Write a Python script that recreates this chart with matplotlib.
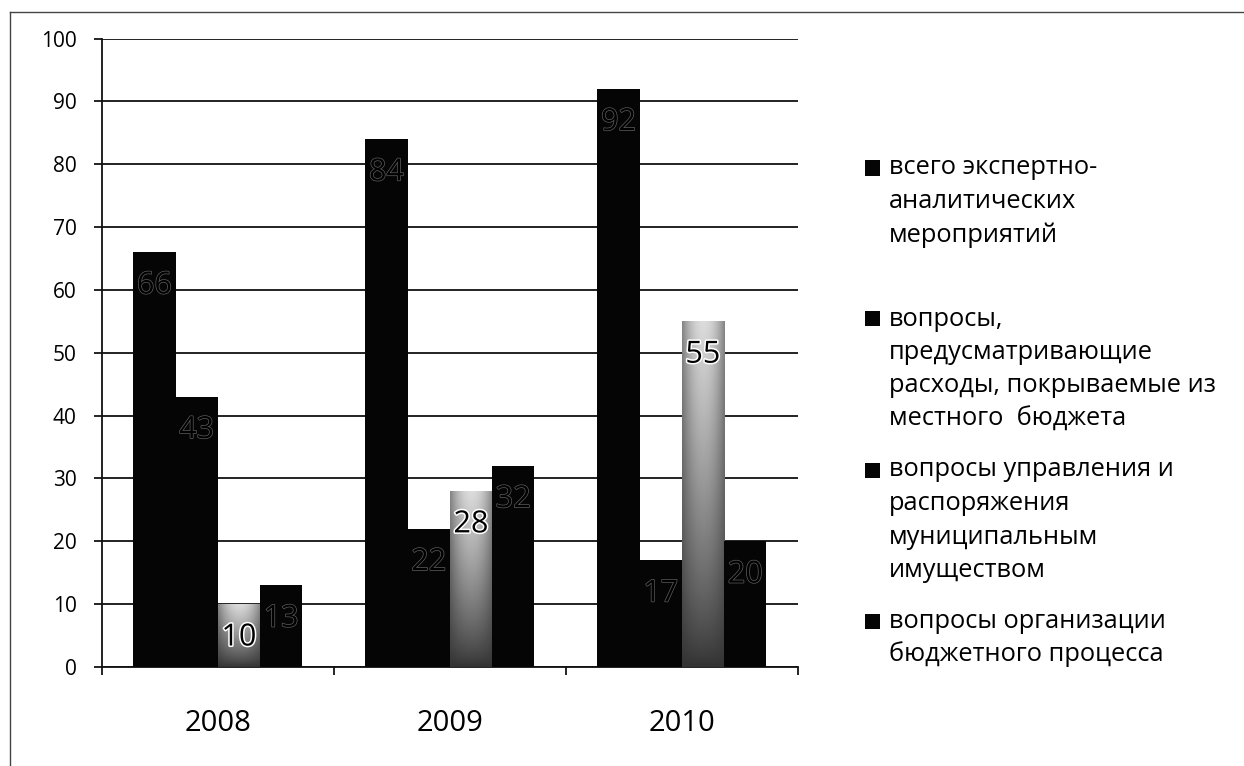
import matplotlib
matplotlib.use('Agg')
import matplotlib.pyplot as plt
import matplotlib.patheffects as pe
import numpy as np
from matplotlib.lines import Line2D
from matplotlib.patches import Rectangle

plt.rcParams['font.family'] = ['Open Sans', 'DejaVu Sans']

years = ['2008', '2009', '2010']
series_names = [
    'всего экспертно-\nаналитических\nмероприятий',
    'вопросы,\nпредусматривающие\nрасходы, покрываемые из\nместного  бюджета',
    'вопросы управления и\nраспоряжения\nмуниципальным\nимуществом',
    'вопросы организации\nбюджетного процесса',
]
total_events = [66, 84, 92]
budget_expenses = [43, 22, 17]
municipal_property = [10, 28, 55]
budget_process = [13, 32, 20]
yticks = list(range(0, 101, 10))

W, H = 1244, 766


def px(x, y):
    # pixel position (from top-left) -> figure fraction
    return x / W, 1 - y / H


def main():
    fig = plt.figure(figsize=(W / 100, H / 100), dpi=100)
    ax = fig.add_axes([0.0818, 0.1292, 0.5595, 0.8205])

    x = np.arange(len(years))
    w = 0.182
    series = [total_events, budget_expenses, municipal_property, budget_process]

    # shading used for the light (third) series
    ny, nx = 80, 30
    t = np.linspace(0, 1, ny)[:, None]
    s = np.linspace(-1, 1, nx)[None, :]
    shade = 0.2 + 0.66 * t ** 0.8 * (1 - 0.5 * s ** 2)

    for i, vals in enumerate(series):
        pos = x + (i - 1.5) * w
        if i == 2:
            bars = ax.bar(pos, vals, w, color='none', edgecolor='none', zorder=3)
            for b in bars:
                im = ax.imshow(shade, cmap='gray', vmin=0, vmax=1, origin='lower',
                               extent=[b.get_x(), b.get_x() + b.get_width(), 0, b.get_height()],
                               aspect='auto', zorder=3, interpolation='bilinear')
                im.set_clip_path(b)
            halo = pe.withStroke(linewidth=2.2, foreground='white')
        else:
            ax.bar(pos, vals, w, color='#050505', edgecolor='none', zorder=3)
            halo = pe.withStroke(linewidth=1.0, foreground='#5e5e5e')
        for p, v in zip(pos, vals):
            ax.annotate(str(v), (p, v), xytext=(0, -24), textcoords='offset points',
                        ha='center', va='center', fontsize=22, color='black', zorder=5,
                        path_effects=[halo])

    ax.set_xlim(-0.5, len(years) - 0.5)
    ax.set_ylim(0, 100)
    ax.set_yticks(yticks)
    ax.set_xticks(x)
    ax.set_xticklabels(years, fontsize=21)
    ax.set_xticks(np.arange(len(years) + 1) - 0.5, minor=True)
    ax.tick_params(axis='x', which='major', length=0, pad=30)
    ax.tick_params(axis='x', which='minor', length=6, width=1.2, direction='out')
    ax.tick_params(axis='y', length=6, width=1.2, pad=12, labelsize=15, direction='out')

    ax.yaxis.grid(True, color='#111111', lw=1.3)
    ax.set_axisbelow(True)
    for side in ['top', 'right']:
        ax.spines[side].set_visible(False)
    for side in ['left', 'bottom']:
        ax.spines[side].set_linewidth(1.3)
        ax.spines[side].set_color('#111111')

    # legend drawn by hand, one line at a time
    first_line = 168
    slot = 151
    pitch = 33.5
    for k, name in enumerate(series_names):
        y0 = first_line + k * slot
        mx, my = px(865, y0 + 7.5)
        fig.add_artist(Rectangle((mx, my), 15 / W, 15 / H, transform=fig.transFigure,
                                 facecolor='#050505', edgecolor='none'))
        for j, line in enumerate(name.split('\n')):
            tx, ty = px(889, y0 + j * pitch)
            fig.text(tx, ty, line, fontsize=18.3, va='center', ha='left', color='black')

    # frame of the scanned chart area
    fig.add_artist(Line2D([10 / W, 1], [1 - 11.5 / H] * 2, transform=fig.transFigure,
                          color='#444444', lw=1))
    fig.add_artist(Line2D([10 / W] * 2, [0, 1 - 11.5 / H], transform=fig.transFigure,
                          color='#444444', lw=1))

    fig.savefig('out.png', dpi=100)


if __name__ == '__main__':
    main()
